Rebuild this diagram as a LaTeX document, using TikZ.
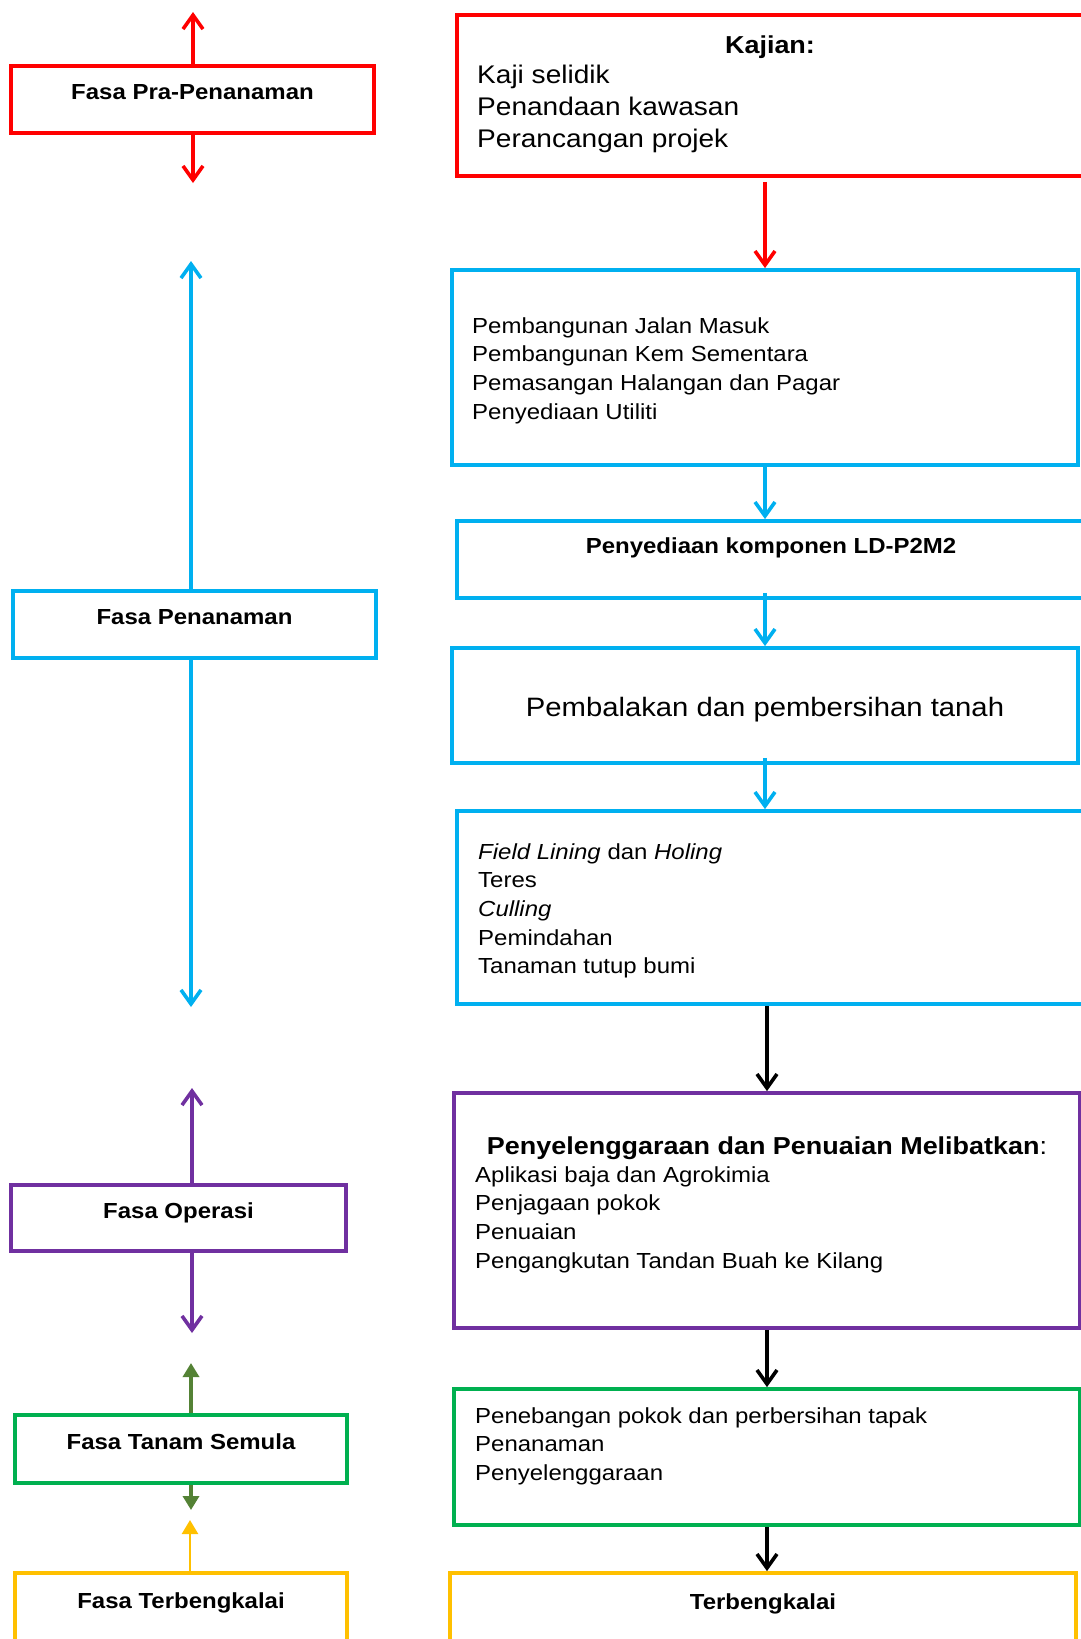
\documentclass[tikz,border=0pt]{standalone}
\usepackage{fontspec}
\setmainfont{Liberation Sans}[FakeStretch=1.1]
\usetikzlibrary{arrows.meta, positioning}

\definecolor{merah}{HTML}{FF0000}
\definecolor{biru}{HTML}{00B0F0}
\definecolor{ungu}{HTML}{7030A0}
\definecolor{hijau}{HTML}{00B050}
\definecolor{hijaugelap}{HTML}{548235}
\definecolor{kuning}{HTML}{FFC000}

\begin{document}
\begin{tikzpicture}[x=1pt,y=-1pt,
    fasa/.style={rectangle, line width=3.8pt, inner sep=0pt, text height=16pt, text depth=16pt,
                 font=\fontsize{21.8}{26}\selectfont\bfseries},
    kotak/.style={rectangle, line width=3.8pt, inner sep=0pt},
    isi/.style={anchor=north west, inner sep=0pt, align=left, font=\fontsize{21.8}{28.7}\selectfont},
    tajuk/.style={anchor=base, inner sep=0pt, font=\fontsize{24.5}{28}\selectfont\bfseries},
    panah/.style={line width=3.6pt, -{Straight Barb[length=14pt,width=20pt]}},
    segi/.style={line width=3.4pt, -{Triangle[length=14pt,width=16pt]}}]
\clip (0,0) rectangle (1081,1639);

% fasa di kiri
\node[fasa, draw=merah, minimum width=363pt, minimum height=67pt] (f_1) at (192.5,99.5) {Fasa Pra-Penanaman};
\node[fasa, draw=biru, minimum width=363pt, minimum height=67pt] (f_2) at (194.5,624.5) {Fasa Penanaman};
\node[fasa, draw=ungu, minimum width=335pt, minimum height=66pt] (f_3) at (178.5,1218) {Fasa Operasi};
\node[fasa, draw=hijau, minimum width=332pt, minimum height=68pt] (f_4) at (181,1449) {Fasa Tanam Semula};
\node[fasa, draw=kuning, minimum width=332pt, minimum height=70pt] (f_5) at (181,1608) {Fasa Terbengkalai};

\coordinate (c_1) at (193,12);
\coordinate (c_2) at (193,183);
\coordinate (c_3) at (191,261);
\coordinate (c_4) at (191,1007);
\coordinate (c_5) at (192,1088);
\coordinate (c_6) at (192,1333);
\coordinate (c_7) at (191,1363);
\coordinate (c_8) at (191,1510);
\coordinate (c_9) at (190,1520);

\draw[panah, merah] (f_1.north -| c_1) -- (c_1);
\draw[panah, merah] (f_1.south -| c_2) -- (c_2);
\draw[panah, biru] (f_2.north -| c_3) -- (c_3);
\draw[panah, biru] (f_2.south -| c_4) -- (c_4);
\draw[panah, ungu] (f_3.north -| c_5) -- (c_5);
\draw[panah, ungu] (f_3.south -| c_6) -- (c_6);
\draw[segi, hijaugelap] (f_4.north -| c_7) -- (c_7);
\draw[segi, hijaugelap] (f_4.south -| c_8) -- (c_8);
\draw[segi, kuning, line width=2.4pt] (f_5.north -| c_9) -- (c_9);

% kotak di kanan
\node[kotak, draw=merah, minimum width=628pt, minimum height=161pt] (k_1) at (771,95.5) {};
\node[kotak, draw=biru, minimum width=626pt, minimum height=195pt] (k_2) at (765,367.5) {};
\node[kotak, draw=biru, minimum width=628pt, minimum height=77pt, text height=16pt, text depth=29pt,
      font=\fontsize{21.8}{26}\selectfont\bfseries] (k_3) at (771,559.5) {Penyediaan komponen LD-P2M2};
\node[kotak, draw=biru, minimum width=626pt, minimum height=115pt, text height=27pt, text depth=5pt,
      font=\fontsize{26.6}{30}\selectfont] (k_4) at (765,705.5) {Pembalakan dan pembersihan tanah};
\node[kotak, draw=biru, minimum width=628pt, minimum height=193pt] (k_5) at (771,907.5) {};
\node[kotak, draw=ungu, minimum width=626pt, minimum height=235pt] (k_6) at (767,1210.5) {};
\node[kotak, draw=hijau, minimum width=626pt, minimum height=136pt] (k_7) at (767,1457) {};
\node[kotak, draw=kuning, minimum width=626pt, minimum height=72pt, text height=16pt, text depth=16pt,
      font=\fontsize{21.8}{26}\selectfont\bfseries] (k_8) at (763,1609) {Terbengkalai};

\node[tajuk] (s_1) at (770,53) {Kajian:};
\node[isi, font=\fontsize{25.5}{32}\selectfont] (s_2) at (477,64.4) {Kaji selidik\\Penandaan kawasan\\Perancangan projek};
\node[isi] (s_3) at (472,317) {Pembangunan Jalan Masuk\\Pembangunan Kem Sementara\\Pemasangan Halangan dan Pagar\\Penyediaan Utiliti};
\node[isi] (s_4) at (478,843) {\textit{Field Lining} dan \textit{Holing}\\Teres\\\textit{Culling}\\Pemindahan\\Tanaman tutup bumi};
\node[tajuk] (s_5) at (767,1154) {Penyelenggaraan dan Penuaian Melibatkan\mdseries:};
\node[isi] (s_6) at (475,1166) {Aplikasi baja dan Agrokimia\\Penjagaan pokok\\Penuaian\\Pengangkutan Tandan Buah ke Kilang};
\node[isi] (s_7) at (475,1407) {Penebangan pokok dan perbersihan tapak\\Penanaman\\Penyelenggaraan};

\draw[panah, merah, shorten <=4pt] (k_1.south -| k_2.north) -- (k_2.north);
\draw[panah, biru] (k_2.south) -- (k_2.south |- k_3.north);
\draw[panah, biru, shorten <=-7pt] (k_3.south -| k_4.north) -- (k_4.north);
\draw[panah, biru, shorten <=-7pt] (k_4.south) -- (k_4.south |- k_5.north);
\draw[panah] (k_5.south -| k_6.north) -- (k_6.north);
\draw[panah] (k_6.south) -- (k_6.south |- k_7.north);
\draw[panah] (k_7.south) -- (k_7.south |- k_8.north);
\end{tikzpicture}
\end{document}
